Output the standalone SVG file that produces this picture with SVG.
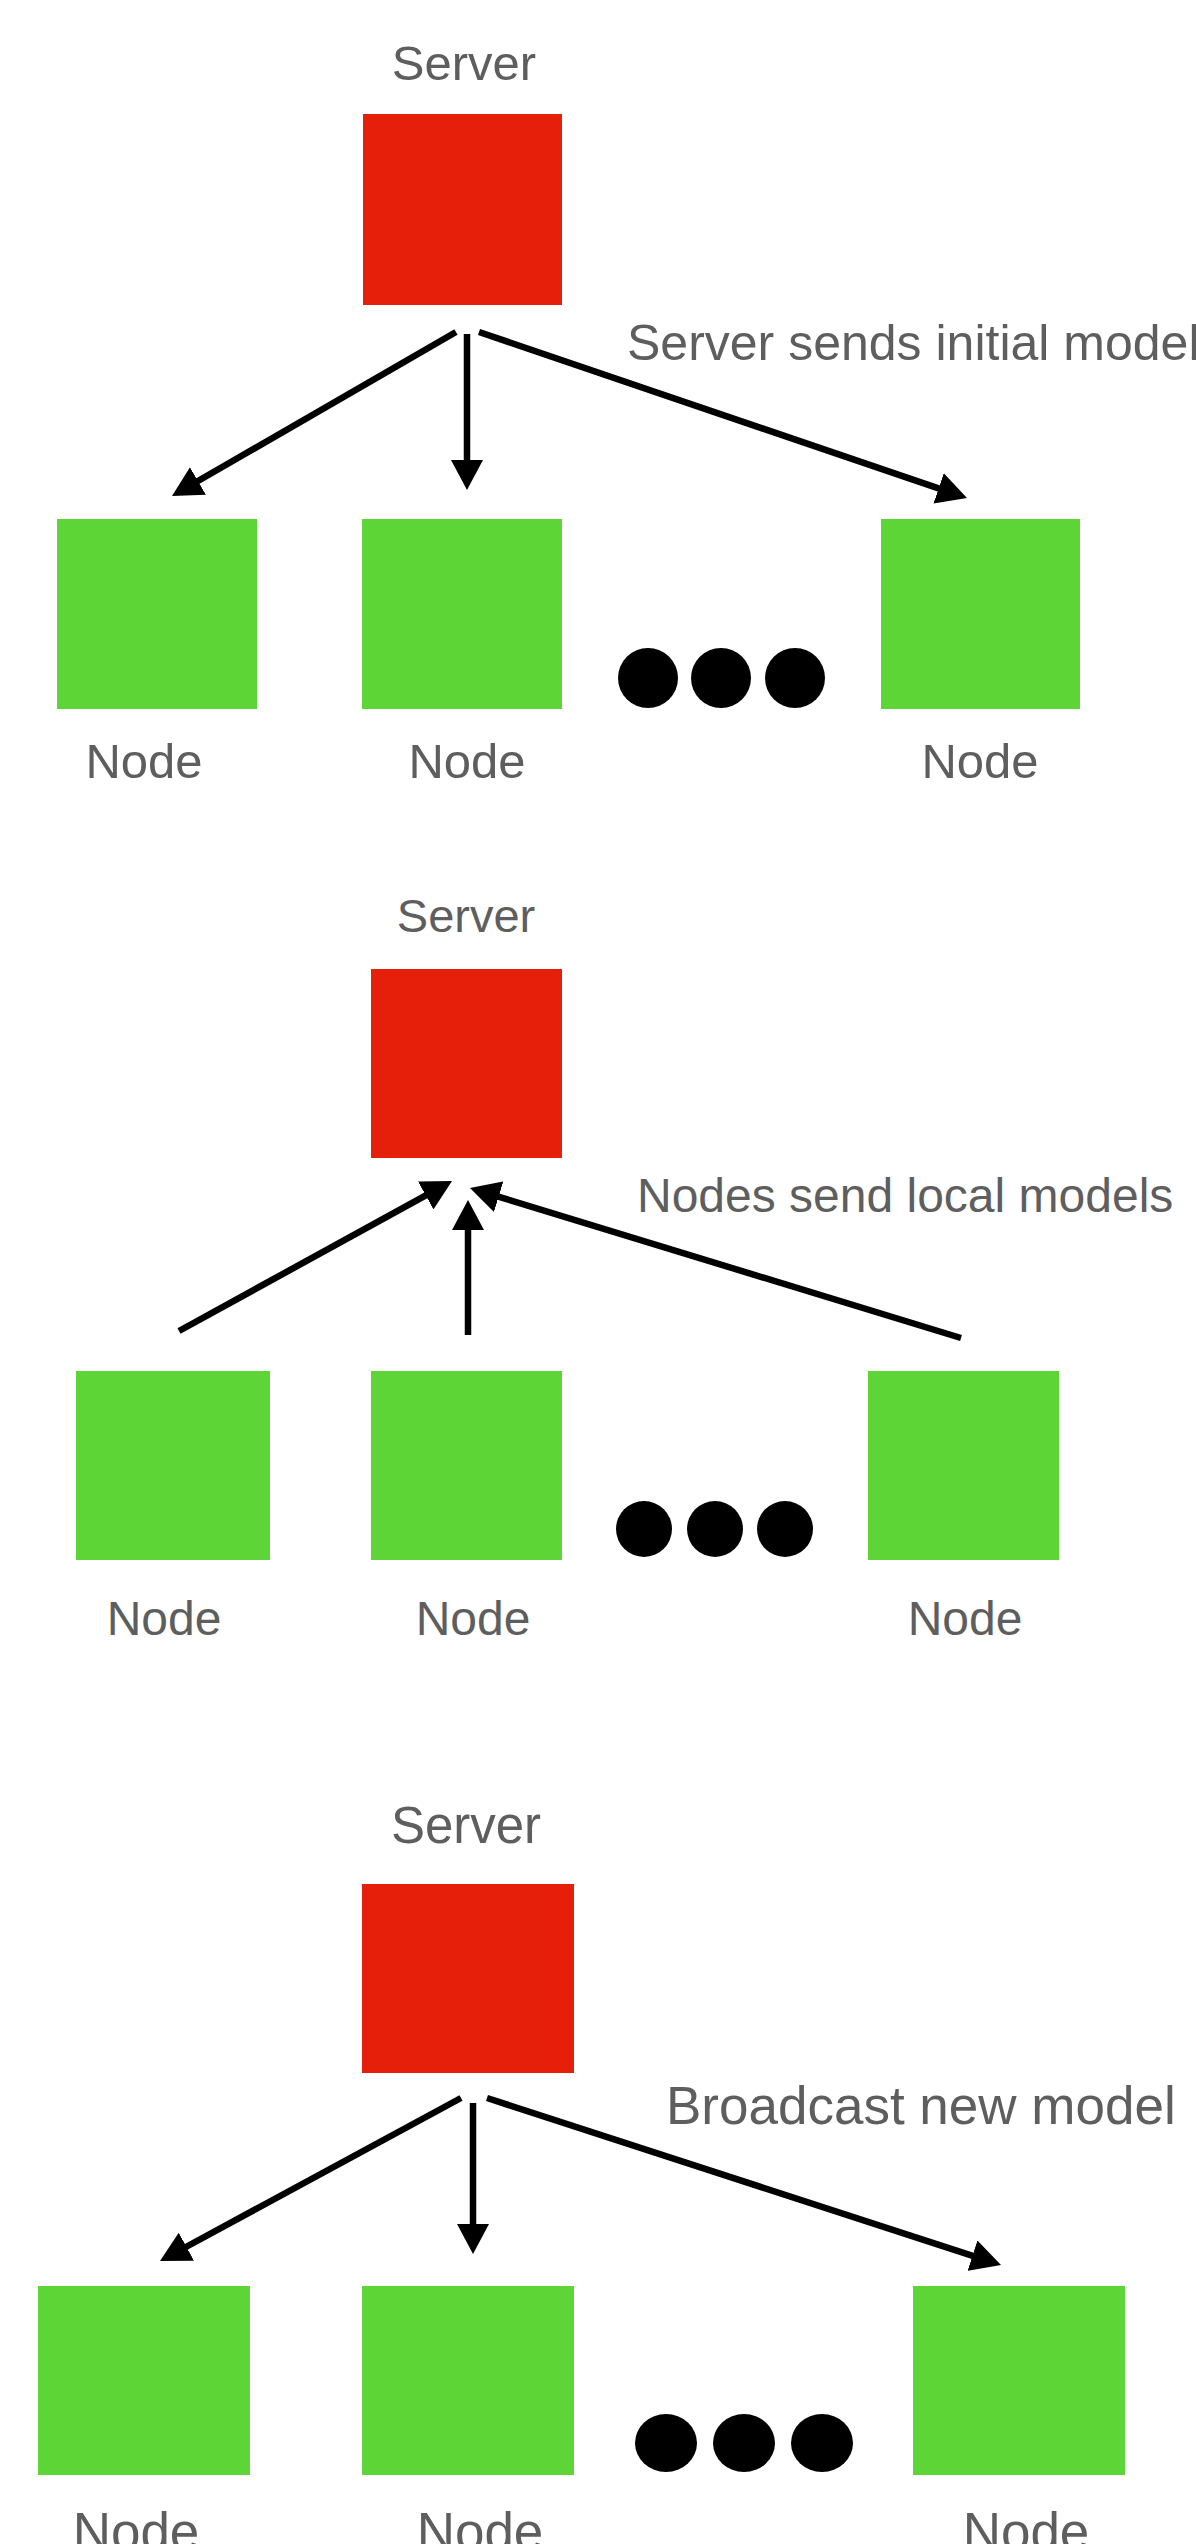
<svg xmlns="http://www.w3.org/2000/svg" width="1196" height="2544" viewBox="0 0 1196 2544">
<style>
  text { font-family: "Liberation Sans", Arial, sans-serif; fill: #5e5e5e; }
  .server { fill: #e61f0b; }
  .node { fill: #5dd536; }
  .dot { fill: #000; }
  .conn { stroke: #000; stroke-width: 6.5; fill: none; marker-end: url(#arrow); }
</style>
<defs>
  <marker id="arrow" markerUnits="userSpaceOnUse" markerWidth="30" markerHeight="32" refX="10" refY="16" orient="auto">
    <path d="M0,0 L30,16 L0,32 Z" fill="#000"/>
  </marker>
</defs>
<rect width="1196" height="2544" fill="#fff"/>

<!-- Section 1 -->
<g id="server1">
  <text x="464" y="80" font-size="49" text-anchor="middle">Server</text>
  <rect class="server" x="363" y="114" width="199" height="191"/>
</g>
<g id="node1a">
  <rect class="node" x="57" y="519" width="200" height="190"/>
  <text x="144" y="778" font-size="49" text-anchor="middle">Node</text>
</g>
<g id="node1b">
  <rect class="node" x="362" y="519" width="200" height="190"/>
  <text x="467" y="778" font-size="49" text-anchor="middle">Node</text>
</g>
<g id="node1c">
  <rect class="node" x="881" y="519" width="199" height="190"/>
  <text x="980" y="778" font-size="49" text-anchor="middle">Node</text>
</g>
<g id="dots1">
  <circle class="dot" cx="648" cy="678" r="30"/>
  <circle class="dot" cx="721" cy="678" r="30"/>
  <circle class="dot" cx="795" cy="678" r="30"/>
</g>
<text id="label1" x="627" y="360" font-size="50">Server sends initial model</text>

<!-- Section 2 -->
<g id="server2">
  <text x="466" y="932" font-size="47" text-anchor="middle">Server</text>
  <rect class="server" x="371" y="969" width="191" height="189"/>
</g>
<g id="node2a">
  <rect class="node" x="76" y="1371" width="194" height="189"/>
  <text x="164" y="1635" font-size="48" text-anchor="middle">Node</text>
</g>
<g id="node2b">
  <rect class="node" x="371" y="1371" width="191" height="189"/>
  <text x="473" y="1635" font-size="48" text-anchor="middle">Node</text>
</g>
<g id="node2c">
  <rect class="node" x="868" y="1371" width="191" height="189"/>
  <text x="965" y="1635" font-size="48" text-anchor="middle">Node</text>
</g>
<g id="dots2">
  <circle class="dot" cx="644" cy="1529" r="28"/>
  <circle class="dot" cx="715" cy="1529" r="28"/>
  <circle class="dot" cx="785" cy="1529" r="28"/>
</g>
<text id="label2" x="637" y="1212" font-size="48">Nodes send local models</text>

<!-- Section 3 -->
<g id="server3">
  <text x="466" y="1843" font-size="51" text-anchor="middle">Server</text>
  <rect class="server" x="362" y="1884" width="212" height="189"/>
</g>
<g id="node3a">
  <rect class="node" x="38" y="2286" width="212" height="189"/>
  <text x="136" y="2550" font-size="53" text-anchor="middle">Node</text>
</g>
<g id="node3b">
  <rect class="node" x="362" y="2286" width="212" height="189"/>
  <text x="480" y="2550" font-size="53" text-anchor="middle">Node</text>
</g>
<g id="node3c">
  <rect class="node" x="913" y="2286" width="212" height="189"/>
  <text x="1026" y="2550" font-size="53" text-anchor="middle">Node</text>
</g>
<g id="dots3">
  <ellipse class="dot" cx="666" cy="2443" rx="31" ry="29"/>
  <ellipse class="dot" cx="744" cy="2443" rx="31" ry="29"/>
  <ellipse class="dot" cx="822" cy="2443" rx="31" ry="29"/>
</g>
<text id="label3" x="666" y="2124" font-size="53">Broadcast new model</text>

<g id="connectors">
  <!-- Section 1 -->
  <line class="conn" x1="456" y1="332" x2="189.3" y2="486"/>
  <line class="conn" x1="467" y1="334" x2="467" y2="470"/>
  <line class="conn" x1="479" y1="332" x2="948.1" y2="491.6"/>
  <!-- Section 2 -->
  <line class="conn" x1="179" y1="1331" x2="434.5" y2="1190.6"/>
  <line class="conn" x1="468" y1="1335" x2="468" y2="1220"/>
  <line class="conn" x1="961" y1="1338" x2="489.1" y2="1193.8"/>
  <!-- Section 3 -->
  <line class="conn" x1="461" y1="2098" x2="177.6" y2="2251.5"/>
  <line class="conn" x1="473" y1="2103" x2="473" y2="2234"/>
  <line class="conn" x1="487" y1="2098" x2="982" y2="2258.8"/>
</g>
</svg>
